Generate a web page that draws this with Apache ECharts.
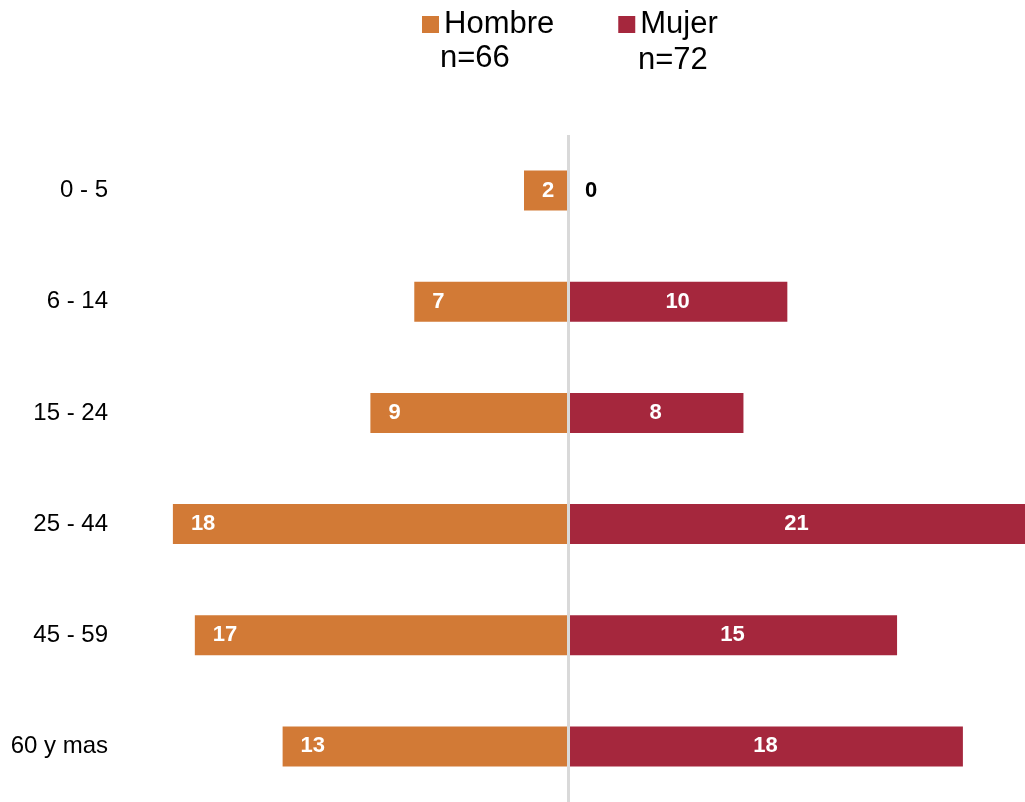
<!DOCTYPE html>
<html><head><meta charset="utf-8">
<script src="https://cdn.jsdelivr.net/npm/echarts@6/dist/echarts.min.js"></script>
<style>html,body{margin:0;padding:0;background:#fff}#c{width:1025px;height:802px}</style>
</head><body><div id="c"></div>
<script>
const categories = ['0 - 5', '6 - 14', '15 - 24', '25 - 44', '45 - 59', '60 y mas'];
const hombre = [2, 7, 9, 18, 17, 13];
const mujer = [0, 10, 8, 21, 15, 18];
const seriesNames = ['Hombre', 'Mujer'];
const sampleSizes = ['n=66', 'n=72'];
const colors = ['#D27A36', '#A5273D'];
const FONT = 'Liberation Sans, Arial, sans-serif';

const chart = echarts.init(document.getElementById('c'));
chart.setOption({
  animation: false,
  textStyle: { fontFamily: FONT },
  legend: {
    data: seriesNames,
    left: 417, top: 4,
    icon: 'rect', itemWidth: 17, itemHeight: 17, itemGap: 64,
    textStyle: { fontSize: 31, color: '#000', fontFamily: FONT }
  },
  graphic: [
    { type: 'text', left: 440, top: 43, style: { text: sampleSizes[0], fontSize: 31, fill: '#000', fontFamily: FONT } },
    { type: 'text', left: 638, top: 45, style: { text: sampleSizes[1], fontSize: 31, fill: '#000', fontFamily: FONT } }
  ],
  grid: { left: 129, right: 0, top: 135, bottom: 0, containLabel: false },
  xAxis: { type: 'value', min: -20, max: 20.83, show: false },
  yAxis: {
    type: 'category', data: categories, inverse: true,
    axisLine: { show: false }, axisTick: { show: false },
    axisLabel: { fontSize: 24, color: '#000', margin: 21, fontFamily: FONT }
  },
  series: [
    {
      name: seriesNames[0], type: 'bar', barWidth: '36%', barGap: '-100%',
      data: hombre.map(v => -v),
      itemStyle: { color: colors[0] },
      label: {
        show: true, position: 'insideLeft', distance: 18,
        color: '#fff', fontWeight: 'bold', fontSize: 22, fontFamily: FONT,
        formatter: p => Math.abs(p.value)
      },
      markLine: {
        silent: true, symbol: 'none', label: { show: false },
        lineStyle: { color: '#D9D9D9', width: 3, type: 'solid' },
        data: [{ xAxis: 0 }]
      }
    },
    {
      name: seriesNames[1], type: 'bar', barWidth: '36%', barGap: '-100%',
      data: mujer.map(v => v === 0 ? {
        value: v,
        label: { position: 'right', distance: 17, color: '#000' }
      } : v),
      itemStyle: { color: colors[1] },
      label: {
        show: true, position: 'inside',
        color: '#fff', fontWeight: 'bold', fontSize: 22, fontFamily: FONT
      }
    }
  ]
});
</script></body></html>
